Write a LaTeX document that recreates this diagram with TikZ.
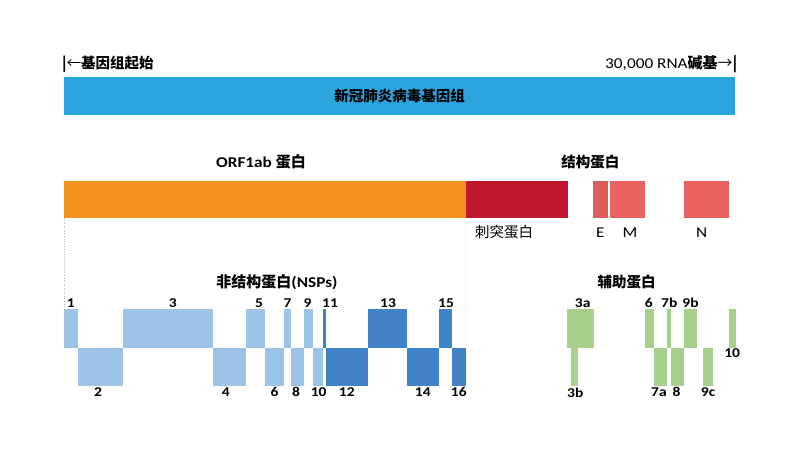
\documentclass[tikz,border=0pt]{standalone}
\usepackage{fontspec}
\setmainfont{Carlito}[FakeStretch=1.15]
\newfontfamily\cjk{Noto Sans CJK SC}
\usetikzlibrary{positioning}
\definecolor{genomeblue}{RGB}{42,164,221}
\definecolor{orfcolor}{RGB}{242,147,31}
\definecolor{spikecolor}{RGB}{192,23,46}
\definecolor{structcolor}{RGB}{233,98,96}
\definecolor{nsplight}{RGB}{157,195,230}
\definecolor{nspdark}{RGB}{66,131,198}
\definecolor{acccolor}{RGB}{168,208,141}

\begin{document}
\begin{tikzpicture}[
  x=1pt, y=-1pt,
  seg/.style={anchor=north west, inner sep=0pt, outer sep=0pt, minimum height=38.7pt},
  bar/.style={anchor=north west, inner sep=0pt, outer sep=0pt, minimum height=36.7pt},
  num/.style={font=\bfseries\fontsize{13.5}{15}\selectfont, inner sep=1pt},
  uprow/.style 2 args={seg, label distance=1.4pt, label={[num, xshift=#2]above:#1}},
  downrow/.style 2 args={seg, label distance=5pt, label={[num, xshift=#2]below:#1}},
  title/.style={font=\bfseries\fontsize{15}{18}\selectfont, inner sep=0pt},
  tag/.style={font=\fontsize{14.5}{17}\selectfont, inner sep=0pt},
  guide/.style={draw=gray!55, dotted, line width=0.6pt},
]
\useasboundingbox (0,0) rectangle (800,450);

% --- Genome ---
\node[tag, anchor=west] (start) at (62,64.5) {{\cjk\bfseries |}{\cjk ←}{\cjk\bfseries 基因组起始}};
\node[tag, anchor=east] (end) at (737.5,64.5) {\fontsize{15}{17}\selectfont 30,000 RNA{\cjk\bfseries 碱基}{\cjk →}{\cjk\bfseries |}};
\node[bar, fill=genomeblue, minimum width=671pt, minimum height=38.3pt, font=\bfseries\fontsize{14.5}{17}\selectfont\cjk] (genome) at (64,76.7) {新冠肺炎病毒基因组};

% --- Proteins ---
\node[title] (orftitle) at (261,162) {ORF1ab {\cjk 蛋白}};
\node[title, font=\bfseries\fontsize{14.5}{17}\selectfont\cjk] (structtitle) at (590.3,161.7) {结构蛋白};
\node[bar, fill=orfcolor, minimum width=402pt] (orf) at (64,181) {};
\node[bar, fill=spikecolor, minimum width=101.7pt] (spike) at (466,181) {};
\node[bar, fill=structcolor!95!black, minimum width=15pt] (e) at (593.3,181) {};
\node[bar, fill=structcolor, minimum width=35pt] (m) at (610,181) {};
\node[bar, fill=structcolor, minimum width=44.7pt] (n) at (684,181) {};
\node[tag, font=\fontsize{14.5}{17}\selectfont\cjk] (spiketag) at (504.2,232.3) {刺突蛋白};
\node[tag, font=\fontsize{15}{17}\selectfont] (etag) at (600.3,232.3) {E};
\node[tag, font=\fontsize{15}{17}\selectfont] (mtag) at (630,232.3) {M};
\node[tag, font=\fontsize{15}{17}\selectfont] (ntag) at (701.7,232.3) {N};

% --- Non-structural proteins ---
\node[title] (nsptitle) at (277,281.7) {{\cjk 非结构蛋白}(NSPs)};
\node[uprow={1}{0pt}, fill=nsplight, minimum width=13.7pt] (nsp1) at (64,309) {};
\node[downrow={2}{-2.2pt}, fill=nsplight, minimum width=45pt] (nsp2) at (77.7,347.7) {};
\node[uprow={3}{4.7pt}, fill=nsplight, minimum width=90.6pt] (nsp3) at (122.7,309) {};
\node[downrow={4}{-3.8pt}, fill=nsplight, minimum width=32.4pt] (nsp4) at (213.3,347.7) {};
\node[uprow={5}{3.7pt}, fill=nsplight, minimum width=19.3pt] (nsp5) at (245.7,309) {};
\node[downrow={6}{0pt}, fill=nsplight, minimum width=19.3pt] (nsp6) at (265,347.7) {};
\node[uprow={7}{0pt}, fill=nsplight, minimum width=6.4pt] (nsp7) at (284.3,309) {};
\node[downrow={8}{-1.3pt}, fill=nsplight, minimum width=13.3pt] (nsp8) at (290.7,347.7) {};
\node[uprow={9}{-1pt}, fill=nsplight, minimum width=9.3pt] (nsp9) at (304,309) {};
\node[downrow={10}{0.7pt}, fill=nsplight, minimum width=9.4pt] (nsp10) at (313.3,347.7) {};
\node[uprow={11}{5.7pt}, fill=nspdark, minimum width=3.3pt] (nsp11) at (322.7,309) {};
\node[downrow={12}{0pt}, fill=nspdark, minimum width=41.7pt] (nsp12) at (326,347.7) {};
\node[uprow={13}{0.8pt}, fill=nspdark, minimum width=39pt] (nsp13) at (367.7,309) {};
\node[downrow={14}{0pt}, fill=nspdark, minimum width=32.3pt] (nsp14) at (406.7,347.7) {};
\node[uprow={15}{0.7pt}, fill=nspdark, minimum width=12.7pt] (nsp15) at (439,309) {};
\node[downrow={16}{0pt}, fill=nspdark, minimum width=14.3pt] (nsp16) at (451.7,347.7) {};

% --- Accessory proteins ---
\node[title, font=\bfseries\fontsize{14.5}{17}\selectfont\cjk] (acctitle) at (626.7,281.7) {辅助蛋白};
\node[uprow={3a}{2pt}, fill=acccolor, minimum width=26.7pt] (orf3a) at (567.3,309) {};
\node[downrow={3b}{0.8pt}, fill=acccolor, minimum width=7pt] (orf3b) at (571,347.7) {};
\node[uprow={6}{-0.8pt}, fill=acccolor, minimum width=8.4pt] (orf6) at (645.3,309) {};
\node[downrow={7a}{-1.5pt}, fill=acccolor, minimum width=13.6pt] (orf7a) at (653.7,347.7) {};
\node[uprow={7b}{0pt}, fill=acccolor, minimum width=4pt] (orf7b) at (667.3,309) {};
\node[downrow={8}{-1pt}, fill=acccolor, minimum width=12.7pt] (orf8) at (671.3,347.7) {};
\node[uprow={9b}{0pt}, fill=acccolor, minimum width=13pt] (orf9b) at (684,309) {};
\node[downrow={9c}{0pt}, fill=acccolor, minimum width=10.3pt] (orf9c) at (703,347.7) {};
\node[seg, fill=acccolor, minimum width=7pt, label distance=7pt, label={[num]below:10}] (orf10) at (728.7,309) {};

% --- Guides ---
\draw[guide] (orf.south west) -- (nsp1.north west);
\draw[guide] (orf.south east) -- (nsp16.north east);

\end{tikzpicture}
\end{document}
